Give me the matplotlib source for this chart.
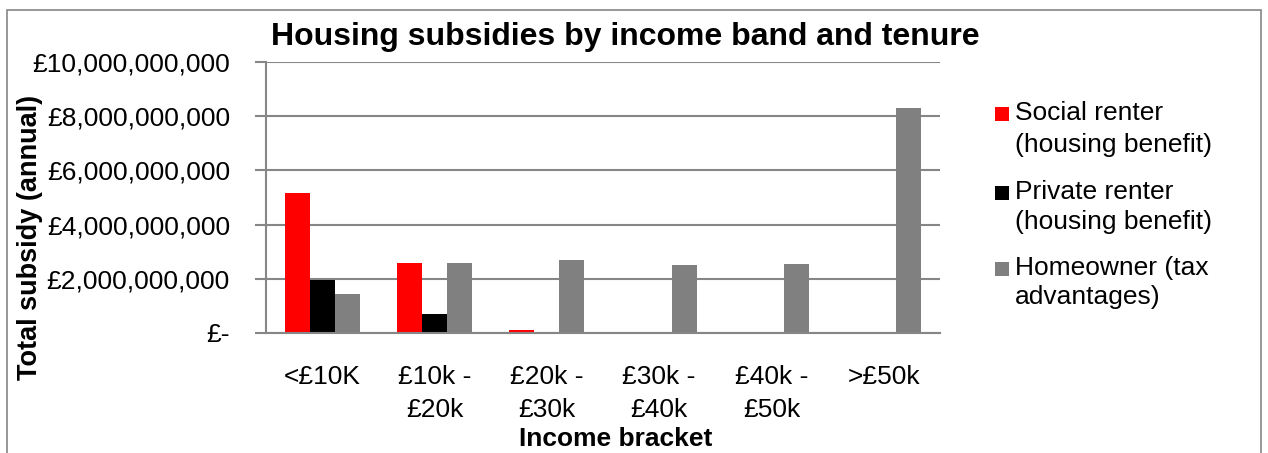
import matplotlib
matplotlib.use("Agg")
import matplotlib.pyplot as plt
from matplotlib.patches import Rectangle
import numpy as np

categories = ["<£10K", "£10k -\n£20k", "£20k -\n£30k", "£30k -\n£40k", "£40k -\n£50k", ">£50k"]
series_names = [["Social renter", "(housing benefit)"],
                ["Private renter", "(housing benefit)"],
                ["Homeowner (tax", "advantages)"]]
social = [5.17e9, 2.58e9, 0.11e9, 0, 0, 0]
private = [1.96e9, 0.70e9, 0.03e9, 0, 0, 0]
homeowner = [1.44e9, 2.58e9, 2.69e9, 2.51e9, 2.55e9, 8.30e9]
colors = ["#FF0000", "#000000", "#808080"]
yticks = [0, 2e9, 4e9, 6e9, 8e9, 10e9]
ytick_labels = ["£-", "£2,000,000,000", "£4,000,000,000", "£6,000,000,000", "£8,000,000,000", "£10,000,000,000"]

plt.rcParams['font.family'] = ['Liberation Sans', 'DejaVu Sans']
W, H = 1268, 453
FS = 19
fig = plt.figure(figsize=(W/100, H/100), dpi=100)

def px(x0, y0, x1, y1):
    return [x0/W, 1 - y1/H, (x1-x0)/W, (y1-y0)/H]

# outer frame
fig.patches.append(Rectangle((7/W, -0.01), (1261-7)/W, 1.01 - 10/H, transform=fig.transFigure,
                             fill=False, edgecolor="#868686", linewidth=1.2))

ax = fig.add_axes(px(266, 62, 940, 333))
gc = "#868686"
n = len(categories)
x = np.arange(n)
bw = 1/4.5
data = [social, private, homeowner]
for i, (vals, c) in enumerate(zip(data, colors)):
    ax.bar(x + (i-1)*bw, vals, width=bw, color=c, zorder=3)

ax.set_xlim(-0.5, n-0.5)
ax.set_ylim(0, 10e9)
ax.set_yticks(yticks)
ax.set_yticklabels(ytick_labels, fontsize=FS)
ax.set_xticks(x)
ax.set_xticklabels(categories, fontsize=FS, linespacing=1.5)
ax.tick_params(axis='x', length=0, pad=23)
ax.tick_params(axis='y', length=8, width=1.5, color=gc, pad=18)
ax.grid(axis='y', color=gc, linewidth=1.5, zorder=0)
for s in ["top", "right"]:
    ax.spines[s].set_visible(False)
for s in ["left", "bottom"]:
    ax.spines[s].set_color(gc)
    ax.spines[s].set_linewidth(1.5)
    ax.spines[s].set_zorder(4)

fig.text(625/W, 1 - 37/H, "Housing subsidies by income band and tenure", fontsize=23,
         fontweight='bold', ha='center', va='center')
fig.text(30/W, 1 - 237/H, "Total subsidy (annual)", fontsize=19.5, fontweight='bold',
         rotation=90, ha='center', va='center')
fig.text(616/W, 1 - 439/H, "Income bracket", fontsize=FS, fontweight='bold',
         ha='center', va='center')

# legend
leg_lines = [(113, 145), (192, 222), (268, 297)]
for lines, c, ys in zip(series_names, colors, leg_lines):
    fig.patches.append(Rectangle((995/W, 1 - 121/H + (113 - ys[0])/H), 14/W, 14/H,
                                 transform=fig.transFigure, facecolor=c, edgecolor='none'))
    for t, yy in zip(lines, ys):
        fig.text(1015/W, 1 - yy/H, t, fontsize=FS, ha='left', va='center')

fig.savefig("out.png", dpi=100)
